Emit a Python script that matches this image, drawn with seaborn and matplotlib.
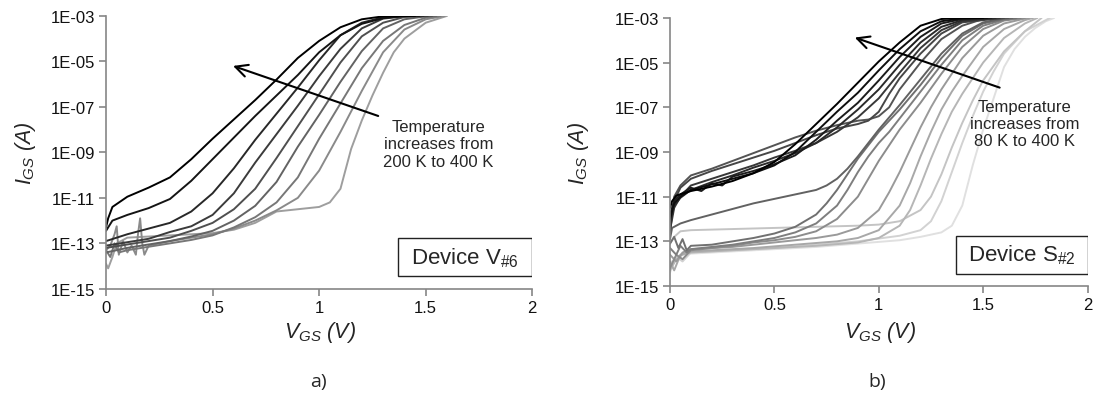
import numpy as np
import pandas as pd
import seaborn as sns
import matplotlib.pyplot as plt
from matplotlib.patches import Rectangle
from matplotlib.ticker import FixedLocator, FuncFormatter, NullLocator

# temperaturas de cada panel (K)
temps_v6 = [400, 375, 350, 325, 300, 275, 250, 225, 200]
temps_s2 = [400, 380, 360, 340, 320, 300, 280, 260, 240, 220, 200, 180, 160, 140, 120, 100, 80]

# curvas: (VGS en V, log10 de IGS en A)
v6_400 = [(0, -12.3), (0.01, -11.9), (0.03, -11.4), (0.1, -10.95), (0.2, -10.55), (0.3, -10.1), (0.4, -9.3), (0.5, -8.4), (0.6, -7.55), (0.7, -6.7), (0.8, -5.8), (0.9, -4.85), (1.0, -4.1), (1.1, -3.5), (1.2, -3.15), (1.3, -3.02), (1.45, -3.0)]
v6_375 = [(0, -12.45), (0.03, -12.0), (0.1, -11.75), (0.2, -11.45), (0.3, -11.05), (0.4, -10.25), (0.5, -9.3), (0.6, -8.35), (0.7, -7.4), (0.8, -6.5), (0.9, -5.6), (1.0, -4.6), (1.1, -3.85), (1.2, -3.35), (1.3, -3.1), (1.4, -3.0), (1.47, -3.0)]
v6_350 = [(0, -12.9), (0.05, -12.75), (0.1, -12.6), (0.2, -12.35), (0.3, -12.1), (0.4, -11.6), (0.5, -10.8), (0.6, -9.7), (0.7, -8.45), (0.8, -7.3), (0.9, -6.15), (1.0, -4.95), (1.1, -3.85), (1.2, -3.3), (1.3, -3.06), (1.4, -3.0), (1.49, -3.0)]
v6_325 = [(0, -13.1), (0.1, -12.95), (0.2, -12.8), (0.3, -12.5), (0.4, -12.25), (0.5, -11.75), (0.6, -10.8), (0.7, -9.45), (0.8, -8.2), (0.9, -6.95), (1.0, -5.65), (1.1, -4.45), (1.2, -3.55), (1.3, -3.12), (1.4, -3.02), (1.51, -3.0)]
v6_300 = [(0, -13.2), (0.1, -13.05), (0.2, -12.9), (0.3, -12.75), (0.4, -12.45), (0.5, -12.1), (0.6, -11.5), (0.7, -10.6), (0.8, -9.25), (0.9, -7.85), (1.0, -6.45), (1.1, -5.05), (1.2, -3.9), (1.3, -3.3), (1.4, -3.05), (1.53, -3.0)]
v6_275 = [(0, -13.4), (0.1, -13.2), (0.2, -13.05), (0.3, -12.9), (0.4, -12.7), (0.5, -12.45), (0.6, -12.0), (0.7, -11.35), (0.8, -10.3), (0.9, -8.75), (1.0, -7.35), (1.1, -5.9), (1.2, -4.55), (1.3, -3.55), (1.4, -3.15), (1.5, -3.02), (1.55, -3.0)]
v6_250 = [(0, -13.3), (0.02, -13.6), (0.04, -13.0), (0.06, -13.4), (0.1, -13.3), (0.2, -13.15), (0.3, -13.0), (0.4, -12.85), (0.5, -12.65), (0.6, -12.3), (0.7, -11.85), (0.8, -11.2), (0.9, -10.1), (1.0, -8.4), (1.1, -6.85), (1.2, -5.3), (1.3, -4.1), (1.4, -3.4), (1.5, -3.08), (1.57, -3.0)]
v6_225 = [(0, -13.3), (0.02, -13.1), (0.04, -12.6), (0.05, -12.25), (0.06, -13.5), (0.08, -12.9), (0.1, -13.4), (0.12, -13.1), (0.14, -13.5), (0.15, -12.6), (0.16, -11.9), (0.17, -13.0), (0.18, -13.5), (0.2, -13.1), (0.3, -12.9), (0.4, -12.75), (0.5, -12.6), (0.6, -12.35), (0.7, -12.0), (0.8, -11.55), (0.9, -11.0), (1.0, -9.8), (1.1, -8.1), (1.2, -6.3), (1.3, -4.6), (1.4, -3.6), (1.5, -3.15), (1.59, -3.0)]
v6_200 = [(0, -13.9), (0.01, -14.1), (0.03, -13.6), (0.05, -13.0), (0.1, -12.75), (0.2, -12.7), (0.3, -12.65), (0.4, -12.6), (0.5, -12.55), (0.6, -12.4), (0.7, -12.1), (0.8, -11.6), (0.9, -11.5), (1.0, -11.4), (1.05, -11.2), (1.1, -10.6), (1.15, -8.85), (1.2, -7.6), (1.25, -6.5), (1.3, -5.5), (1.35, -4.6), (1.4, -4.0), (1.5, -3.3), (1.6, -3.0)]

s2_400 = [(0, -11.5), (0.01, -11.2), (0.03, -10.95), (0.1, -10.75), (0.2, -10.55), (0.3, -10.3), (0.4, -9.95), (0.5, -9.45), (0.6, -8.65), (0.7, -7.75), (0.8, -6.85), (0.9, -5.9), (1.0, -4.95), (1.1, -4.1), (1.2, -3.35), (1.3, -3.05), (1.4, -3.0), (1.5, -3.0)]
s2_380 = [(0, -12.0), (0.02, -11.3), (0.05, -11.0), (0.1, -10.7), (0.2, -10.45), (0.3, -10.2), (0.4, -9.95), (0.5, -9.6), (0.6, -9.0), (0.7, -8.1), (0.8, -7.2), (0.9, -6.35), (1.0, -5.35), (1.1, -4.4), (1.2, -3.6), (1.3, -3.15), (1.4, -3.02), (1.52, -3.0)]
s2_360 = [(0, -11.8), (0.02, -11.2), (0.05, -10.9), (0.1, -10.6), (0.15, -10.75), (0.2, -10.4), (0.25, -10.5), (0.3, -10.1), (0.4, -9.85), (0.5, -9.55), (0.6, -9.15), (0.7, -8.45), (0.8, -7.6), (0.9, -6.8), (1.0, -5.8), (1.1, -4.75), (1.2, -3.85), (1.3, -3.25), (1.4, -3.05), (1.54, -3.0)]
s2_340 = [(0, -12.2), (0.02, -11.4), (0.05, -11.05), (0.1, -10.7), (0.2, -10.35), (0.3, -10.05), (0.4, -9.7), (0.5, -9.4), (0.6, -9.05), (0.7, -8.6), (0.8, -7.9), (0.9, -7.1), (1.0, -6.2), (1.1, -5.1), (1.2, -4.1), (1.3, -3.4), (1.4, -3.1), (1.56, -3.0)]
s2_320 = [(0, -12.5), (0.02, -11.5), (0.05, -11.0), (0.1, -10.5), (0.2, -10.2), (0.3, -9.9), (0.4, -9.6), (0.5, -9.25), (0.6, -8.95), (0.7, -8.6), (0.8, -8.1), (0.9, -7.45), (1.0, -6.6), (1.1, -5.45), (1.2, -4.35), (1.3, -3.55), (1.4, -3.15), (1.58, -3.0)]
s2_300 = [(0, -12.4), (0.02, -11.2), (0.05, -10.6), (0.1, -10.2), (0.2, -9.85), (0.3, -9.55), (0.4, -9.25), (0.5, -8.95), (0.6, -8.6), (0.7, -8.25), (0.8, -7.95), (0.9, -7.75), (0.95, -7.6), (1.0, -7.2), (1.05, -6.4), (1.1, -5.7), (1.2, -4.6), (1.3, -3.7), (1.4, -3.2), (1.6, -3.0)]
s2_280 = [(0, -12.6), (0.02, -11.0), (0.05, -10.5), (0.1, -10.05), (0.2, -9.75), (0.3, -9.4), (0.4, -9.05), (0.5, -8.7), (0.6, -8.35), (0.7, -8.05), (0.8, -7.8), (0.9, -7.6), (0.95, -7.55), (1.0, -7.4), (1.05, -7.0), (1.1, -6.2), (1.15, -5.6), (1.2, -5.0), (1.3, -3.95), (1.4, -3.35), (1.5, -3.05), (1.62, -3.0)]
s2_260 = [(0, -12.9), (0.01, -12.4), (0.05, -12.2), (0.1, -12.05), (0.2, -11.8), (0.3, -11.55), (0.4, -11.3), (0.5, -11.1), (0.6, -10.9), (0.7, -10.7), (0.75, -10.5), (0.8, -10.2), (0.85, -9.75), (0.9, -9.2), (0.95, -8.6), (1.0, -8.0), (1.1, -6.9), (1.2, -5.75), (1.3, -4.6), (1.4, -3.7), (1.5, -3.2), (1.6, -3.02), (1.64, -3.0)]
s2_240 = [(0, -13.1), (0.02, -12.8), (0.04, -13.3), (0.06, -12.9), (0.08, -13.4), (0.1, -13.2), (0.2, -13.15), (0.3, -13.0), (0.4, -12.85), (0.5, -12.65), (0.6, -12.35), (0.7, -11.8), (0.75, -11.3), (0.8, -10.7), (0.85, -10.0), (0.9, -9.3), (0.95, -8.7), (1.0, -8.1), (1.05, -7.6), (1.1, -7.1), (1.2, -6.0), (1.3, -4.8), (1.4, -3.8), (1.5, -3.25), (1.6, -3.05), (1.66, -3.0)]
s2_220 = [(0, -13.3), (0.03, -13.6), (0.05, -13.2), (0.08, -13.5), (0.1, -13.35), (0.2, -13.25), (0.3, -13.15), (0.4, -13.0), (0.5, -12.85), (0.6, -12.6), (0.7, -12.2), (0.8, -11.4), (0.85, -10.7), (0.9, -9.9), (0.95, -9.2), (1.0, -8.6), (1.05, -8.1), (1.1, -7.5), (1.2, -6.3), (1.3, -5.1), (1.4, -4.0), (1.5, -3.35), (1.6, -3.08), (1.68, -3.0)]
s2_200 = [(0, -14.2), (0.03, -13.6), (0.06, -13.8), (0.1, -13.4), (0.2, -13.3), (0.3, -13.2), (0.4, -13.05), (0.5, -12.95), (0.6, -12.8), (0.7, -12.55), (0.8, -12.0), (0.9, -11.0), (0.95, -10.2), (1.0, -9.4), (1.05, -8.7), (1.1, -8.0), (1.15, -7.4), (1.2, -6.8), (1.3, -5.5), (1.4, -4.3), (1.5, -3.5), (1.6, -3.12), (1.7, -3.0)]
s2_180 = [(0, -13.6), (0.03, -13.9), (0.06, -13.5), (0.1, -13.35), (0.2, -13.3), (0.3, -13.25), (0.4, -13.15), (0.5, -13.05), (0.6, -12.95), (0.7, -12.85), (0.8, -12.7), (0.9, -12.4), (1.0, -11.6), (1.05, -10.8), (1.1, -9.9), (1.15, -8.9), (1.2, -7.9), (1.25, -7.0), (1.3, -6.2), (1.4, -4.8), (1.5, -3.8), (1.6, -3.25), (1.7, -3.03), (1.72, -3.0)]
s2_160 = [(0, -13.9), (0.02, -14.3), (0.05, -13.6), (0.1, -13.45), (0.2, -13.4), (0.4, -13.3), (0.6, -13.15), (0.8, -13.0), (0.9, -12.85), (1.0, -12.5), (1.1, -11.4), (1.15, -10.4), (1.2, -9.2), (1.25, -8.1), (1.3, -7.1), (1.35, -6.3), (1.4, -5.6), (1.5, -4.3), (1.6, -3.5), (1.7, -3.1), (1.74, -3.0)]
s2_140 = [(0, -14.3), (0.03, -13.8), (0.06, -13.6), (0.1, -13.5), (0.3, -13.4), (0.5, -13.3), (0.7, -13.2), (0.9, -13.05), (1.0, -12.85), (1.1, -12.3), (1.15, -11.6), (1.2, -10.5), (1.25, -9.3), (1.3, -8.2), (1.35, -7.2), (1.4, -6.4), (1.45, -5.7), (1.5, -5.0), (1.6, -3.9), (1.7, -3.25), (1.76, -3.0)]
s2_120 = [(0, -13.1), (0.02, -12.8), (0.05, -12.55), (0.1, -12.5), (0.3, -12.45), (0.5, -12.4), (0.7, -12.35), (0.9, -12.3), (1.0, -12.25), (1.1, -12.1), (1.2, -11.6), (1.25, -11.0), (1.3, -10.0), (1.35, -8.8), (1.4, -7.7), (1.45, -6.7), (1.5, -5.8), (1.6, -4.5), (1.7, -3.6), (1.78, -3.0)]
s2_100 = [(0, -14.0), (0.03, -13.7), (0.06, -13.9), (0.1, -13.5), (0.3, -13.4), (0.5, -13.3), (0.7, -13.15), (0.9, -13.0), (1.1, -12.75), (1.2, -12.5), (1.25, -12.1), (1.3, -11.2), (1.35, -9.9), (1.4, -8.6), (1.45, -7.4), (1.5, -6.3), (1.55, -5.4), (1.6, -4.6), (1.7, -3.6), (1.8, -3.1), (1.82, -3.0)]
s2_80 = [(0, -14.4), (0.02, -13.9), (0.05, -13.6), (0.1, -13.55), (0.3, -13.45), (0.5, -13.35), (0.7, -13.25), (0.9, -13.1), (1.1, -12.95), (1.2, -12.8), (1.3, -12.6), (1.35, -12.3), (1.4, -11.4), (1.45, -9.6), (1.5, -8.0), (1.55, -6.6), (1.6, -5.2), (1.65, -4.4), (1.7, -3.85), (1.75, -3.45), (1.8, -3.15), (1.84, -3.0)]

curves_v6 = [v6_400, v6_375, v6_350, v6_325, v6_300, v6_275, v6_250, v6_225, v6_200]
curves_s2 = [s2_400, s2_380, s2_360, s2_340, s2_320, s2_300, s2_280, s2_260, s2_240,
             s2_220, s2_200, s2_180, s2_160, s2_140, s2_120, s2_100, s2_80]

yticks = [1e-15, 1e-13, 1e-11, 1e-9, 1e-7, 1e-5, 1e-3]
xticks = [0, 0.5, 1, 1.5, 2]


def armar_tabla(curvas, temps):
    filas = []
    for t, pts in zip(temps, curvas):
        for v, lg in pts:
            filas.append((t, v, 10.0 ** lg))
    return pd.DataFrame(filas, columns=['T', 'vgs', 'igs'])


sns.set_style('white')
plt.rcParams['font.family'] = ['Liberation Sans', 'DejaVu Sans']
plt.rcParams['mathtext.fontset'] = 'custom'
plt.rcParams['mathtext.rm'] = 'Liberation Sans'
plt.rcParams['mathtext.it'] = 'Liberation Sans:italic'
plt.rcParams['mathtext.default'] = 'it'

gris = '#868686'
fig = plt.figure(figsize=(10.93, 4.02), dpi=100)
ax1 = fig.add_axes([0.097, 0.279, 0.390, 0.679])
ax2 = fig.add_axes([0.613, 0.286, 0.382, 0.667])

paneles = [
    (ax1, curves_v6, temps_v6, 0.62, 'Temperature\nincreases from\n200 K to 400 K',
     r'Device V$_{\mathrm{\#6}}$', (1.277, 10 ** -7.4), (0.596, 10 ** -5.2), (1.56, 10 ** -8.63),
     'a)', 0.291, -0.16, -0.11),
    (ax2, curves_s2, temps_s2, 0.88, 'Temperature\nincreases from\n80 K to 400 K',
     r'Device S$_{\mathrm{\#2}}$', (1.579, 10 ** -6.12), (0.885, 10 ** -3.88), (1.70, 10 ** -7.73),
     'b)', 0.803, -0.19, -0.123),
]

for ax, curvas, temps, claro, nota, device, cola, punta, pos_nota, letra, xl, ylx, xly in paneles:
    df = armar_tabla(curvas, temps)
    n = len(temps)
    colores = {t: str(claro * k / (n - 1)) for k, t in enumerate(temps)}
    # las frias primero para que las negras queden arriba
    sns.lineplot(data=df, x='vgs', y='igs', hue='T', hue_order=sorted(temps),
                 palette=colores, estimator=None, sort=False, legend=False,
                 linewidth=1.4, ax=ax)
    ax.set_yscale('log')
    ax.set_xlim(0, 2)
    ax.set_ylim(1e-15, 1e-3)
    ax.yaxis.set_major_locator(FixedLocator(yticks))
    ax.yaxis.set_minor_locator(NullLocator())
    ax.yaxis.set_major_formatter(FuncFormatter(lambda v, p: '1E%03d' % int(round(np.log10(v)))))
    ax.xaxis.set_major_locator(FixedLocator(xticks))
    ax.xaxis.set_major_formatter(FuncFormatter(lambda v, p: '%g' % v))
    for lado in ['top', 'right']:
        ax.spines[lado].set_visible(False)
    for lado in ['left', 'bottom']:
        ax.spines[lado].set_color(gris)
        ax.spines[lado].set_linewidth(1.2)
    ax.tick_params(axis='both', which='major', direction='out', length=5, width=1.2,
                   color=gris, labelsize=12, labelcolor='#111111', pad=3,
                   left=True, bottom=True)
    ax.set_xlabel(r'$V_{GS}$ (V)', fontsize=15.5, fontstyle='italic')
    ax.set_ylabel(r'$I_{GS}$ (A)', fontsize=15.5, fontstyle='italic')
    ax.xaxis.set_label_coords(0.502, xly)
    ax.yaxis.set_label_coords(ylx, 0.5)
    ax.annotate('', xy=punta, xytext=cola,
                arrowprops=dict(arrowstyle='->', color='black', lw=1.5,
                                mutation_scale=22, shrinkA=0, shrinkB=0))
    ax.text(pos_nota[0], pos_nota[1], nota, ha='center', va='center',
            fontsize=12, linespacing=1.2)
    ax.add_patch(Rectangle((0.684, 0.046), 0.316, 0.142, transform=ax.transAxes,
                           facecolor='white', edgecolor='#222222', lw=1.0, zorder=5))
    ax.text(0.842, 0.117, device, transform=ax.transAxes, ha='center', va='center',
            fontsize=16, zorder=6)
    fig.text(xl, 0.05, letra, ha='center', va='center', fontsize=14,
             family=['Open Sans', 'DejaVu Sans'])

fig.savefig('out.png', dpi=100)
